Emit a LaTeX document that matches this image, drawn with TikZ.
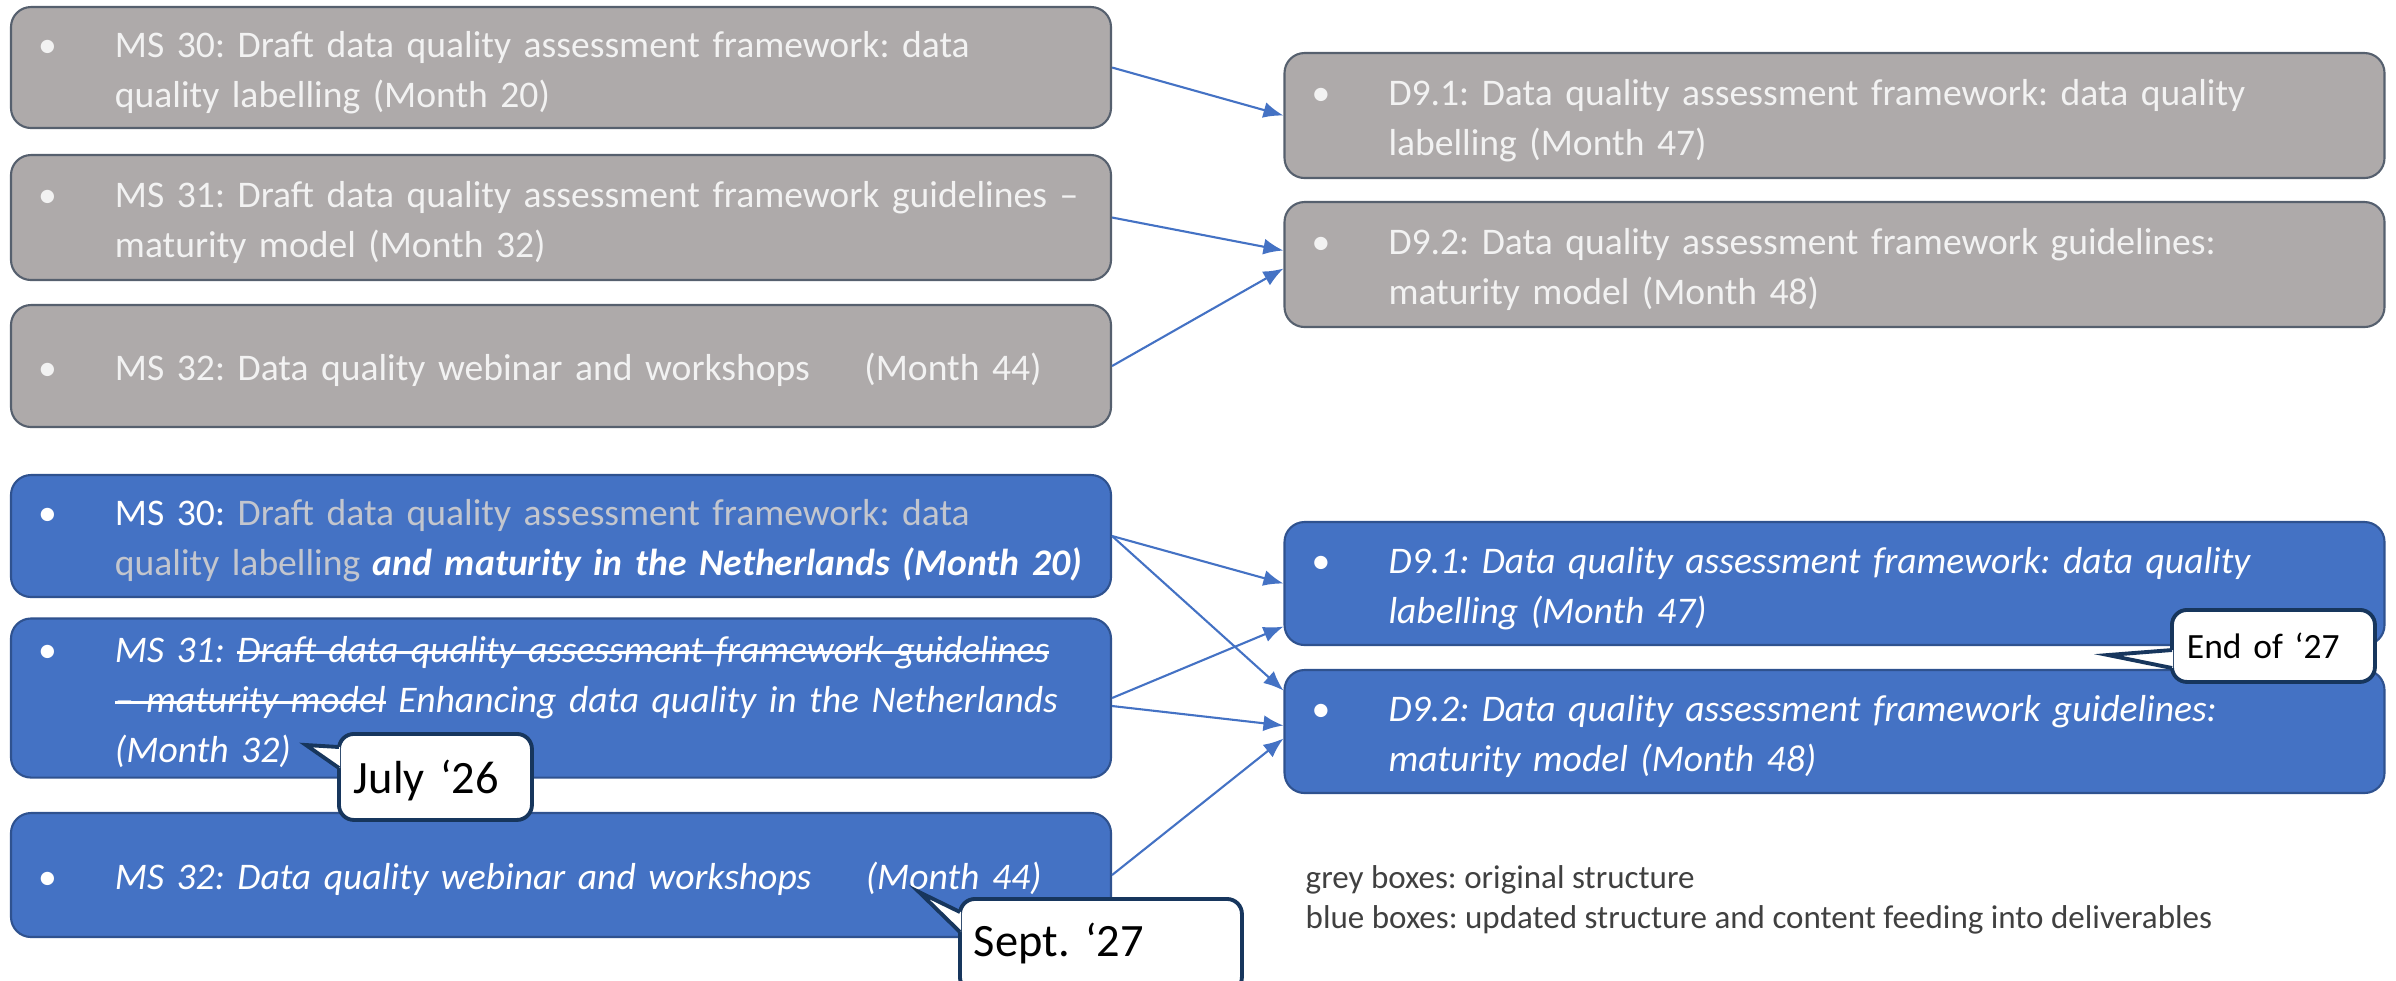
\documentclass[tikz,border=0pt]{standalone}
\usepackage{fontspec}
\setmainfont{Carlito}
\usetikzlibrary{arrows.meta, positioning}
\definecolor{MyGrey}{HTML}{AEAAAA}
\definecolor{MyGreyEdge}{HTML}{56606E}
\definecolor{MyGreyText}{HTML}{F2F2F2}
\definecolor{MyBlue}{HTML}{4472C4}
\definecolor{MyBlueEdge}{HTML}{2F528F}
\definecolor{MyFaded}{HTML}{C3C6CE}
\definecolor{MyNavy}{HTML}{17365D}
\definecolor{MyLegend}{HTML}{404040}
\frenchspacing
\newcommand{\bitem}[1]{\begin{tabular}{@{}p{1.04cm}@{}p{9.92cm}@{}}\hspace*{0.27cm}\textbullet\rule{0pt}{12.6pt} & \raggedright #1\end{tabular}}
\newsavebox{\strikebox}
\newcommand{\strike}[1]{\sbox{\strikebox}{#1}\rlap{\raisebox{0.24em}{\rule{\wd\strikebox}{0.06em}}}\usebox{\strikebox}}

\begin{document}
\begin{tikzpicture} [
			every node/.style={align=left,inner xsep=0pt,inner ysep=0pt},
			greybox/.style={draw=MyGreyEdge,fill=MyGrey,line width=0.6pt,rounded corners=0.2cm,text=MyGreyText,text width=11cm,font=\fontsize{10.7}{14.2}\selectfont},
			bluebox/.style={draw=MyBlueEdge,fill=MyBlue,line width=0.6pt,rounded corners=0.2cm,text=white,text width=11cm,font=\fontsize{10.7}{14.2}\selectfont},
			callbox/.style={draw=MyNavy,fill=white,line width=1.1pt,rounded corners=0.15cm,anchor=north west,inner xsep=0.15cm,font=\fontsize{13.2}{16}\selectfont},
			callout/.style={draw=MyNavy,line width=1.1pt},
			link/.style={draw=MyBlue,line width=0.6pt,-{Latex[length=2mm,width=1.6mm]}}
		]
			\useasboundingbox (0,0) rectangle (23.96,-9.80);
			% original structure
			\node at (5.61,-0.675) [greybox,minimum height=1.21cm] (gms30) {\bitem{MS 30: Draft data quality assessment framework: data\newline quality labelling (Month 20)}};
			\node at (5.61,-2.175) [greybox,minimum height=1.25cm] (gms31) {\bitem{MS 31: Draft data quality assessment framework guidelines –\newline maturity model (Month 32)}};
			\node at (5.61,-3.66) [greybox,minimum height=1.22cm] (gms32) {\bitem{MS 32: Data quality webinar and workshops\hspace{4.2mm} (Month 44)}};
			\node at (18.345,-1.155) [greybox,minimum height=1.25cm] (gd91) {\bitem{D9.1: Data quality assessment framework: data quality\newline labelling (Month 47)}};
			\node at (18.345,-2.645) [greybox,minimum height=1.25cm] (gd92) {\bitem{D9.2: Data quality assessment framework guidelines:\newline maturity model (Month 48)}};
			% updated structure
			\node at (5.61,-5.36) [bluebox,minimum height=1.22cm] (bms30) {\bitem{MS 30: \textcolor{MyFaded}{Draft data quality assessment framework: data\newline quality labelling} \textbf{\textit{and maturity in the Netherlands (Month 20)}}}};
			\node at (5.61,-6.98) [bluebox,minimum height=1.5cm] (bms31) {\bitem{\textit{MS 31: \strike{Draft data quality assessment framework guidelines}\newline \strike{– maturity model} Enhancing data quality in the Netherlands\newline (Month 32)}}};
			\node at (5.61,-8.75) [bluebox,minimum height=1.24cm] (bms32) {\bitem{\textit{MS 32: Data quality webinar and workshops\hspace{4.2mm} (Month 44)}}};
			\node at (18.345,-5.835) [bluebox,minimum height=1.23cm] (bd91) {\bitem{\textit{D9.1: Data quality assessment framework: data quality\newline labelling (Month 47)}}};
			\node at (18.345,-7.315) [bluebox,minimum height=1.23cm] (bd92) {\bitem{\textit{D9.2: Data quality assessment framework guidelines:\newline maturity model (Month 48)}}};
			\node at (13.05,-8.65) [anchor=north west,text=MyLegend,font=\fontsize{9.4}{11.4}\selectfont] (legend) {grey boxes: original structure\\blue boxes: updated structure and content feeding into deliverables};
			\path[link] (gms30.east) -- (gd91.west);
			\path[link] (gms31.east) -- ([yshift=0.14cm]gd92.west);
			\path[link] (gms32.east) -- ([yshift=-0.04cm]gd92.west);
			\path[link] (bms30.east) -- (bd91.west);
			\path[link] (bms30.east) -- ([yshift=0.41cm]bd92.west);
			\path[link] (bms31.east) -- ([yshift=-0.43cm]bd91.west);
			\path[link] ([yshift=-0.08cm]bms31.east) -- ([yshift=0.06cm]bd92.west);
			\path[link] (bms32.east) -- ([yshift=-0.07cm]bd92.west);
			% callouts
			\node at (3.37,-7.32) [callbox,text width=1.63cm,text height=0.60cm,text depth=0.26cm] (july) {July ‘26};
			\coordinate (julytip) at (3.06,-7.45);
			\fill[white] ([shift={(0.03,-0.15)}]july.north west) -- (julytip) -- ([shift={(0.03,-0.36)}]july.north west) -- cycle;
			\path[callout] ([shift={(0.02,-0.15)}]july.north west) -- (julytip) -- ([shift={(0.02,-0.36)}]july.north west);
			\node at (9.58,-8.97) [callbox,text width=2.54cm,text height=0.58cm,text depth=0.35cm,inner xsep=0.14cm] (sept) {Sept. ‘27};
			\coordinate (septtip) at (9.19,-8.92);
			\fill[white] ([shift={(0.03,-0.15)}]sept.north west) -- (septtip) -- ([shift={(0.03,-0.35)}]sept.north west) -- cycle;
			\path[callout] ([shift={(0.02,-0.15)}]sept.north west) -- (septtip) -- ([shift={(0.02,-0.35)}]sept.north west);
			\node at (21.70,-6.08) [callbox,text width=1.73cm,text height=0.49cm,text depth=0.23cm,font=\fontsize{10.1}{12}\selectfont] (endof) {End of ‘27};
			\coordinate (endtip) at (21.08,-6.55);
			\fill[white] ([shift={(0.03,-0.42)}]endof.north west) -- (endtip) -- ([shift={(0.03,-0.60)}]endof.north west) -- cycle;
			\path[callout] ([shift={(0.02,-0.42)}]endof.north west) -- (endtip) -- ([shift={(0.02,-0.60)}]endof.north west);
		\end{tikzpicture}
\end{document}
